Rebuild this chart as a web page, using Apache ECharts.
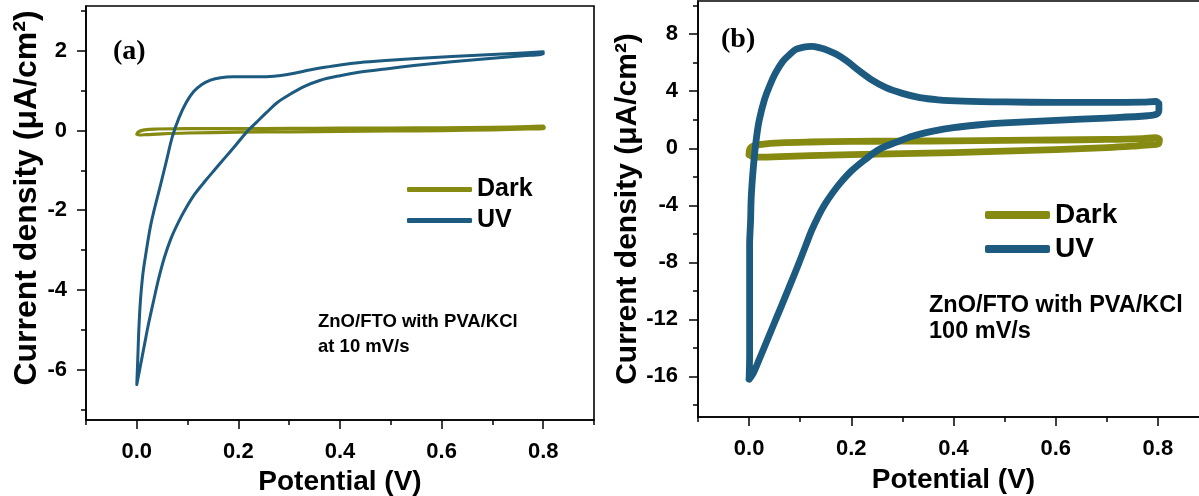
<!DOCTYPE html>
<html><head><meta charset="utf-8">
<script src="https://cdn.jsdelivr.net/npm/echarts@6/dist/echarts.min.js"></script>
<style>html,body{margin:0;padding:0;background:#fff}#c{width:1199px;height:496px}</style>
</head><body><div id="c"></div>
<script>
// ---- tick values ----
const xMajorTicks = [0, 0.2, 0.4, 0.6, 0.8];
const xMinorTicks = [-0.1, 0.1, 0.3, 0.5, 0.7, 0.9];
const aYMajorTicks = [-6, -4, -2, 0, 2];
const aYMinorTicks = [-7, -5, -3, -1, 1, 3];
const bYMajorTicks = [-16, -12, -8, -4, 0, 4, 8];
const bYMinorTicks = [-18, -14, -10, -6, -2, 2, 6, 10];
const seriesNames = ['Dark', 'UV'];
const xTitle = 'Potential (V)';
const yTitle = 'Current density (\u03bcA/cm\u00b2)';
const aNote = ['ZnO/FTO with PVA/KCl', 'at 10 mV/s'];
const bNote = ['ZnO/FTO with PVA/KCl', '100 mV/s'];

// ---- panel (a) data: [potential V, current density] ----
const aDark = [[0.0,-0.09],[0.003,-0.03],[0.015,0.02],[0.04,0.04],[0.1,0.05],[0.2,0.05],[0.3,0.055],[0.4,0.06],[0.5,0.065],[0.6,0.07],[0.7,0.08],[0.77,0.1],[0.8,0.11],[0.802,0.08],[0.8,0.05],[0.77,0.04],[0.7,0.02],[0.6,0.0],[0.5,-0.01],[0.4,-0.02],[0.3,-0.03],[0.2,-0.04],[0.1,-0.06],[0.05,-0.08],[0.02,-0.1],[0.005,-0.11],[0.0,-0.09]];
const aUV = [[0.0,-6.38],[0.002,-5.7],[0.004,-5.0],[0.007,-4.3],[0.012,-3.6],[0.019,-3.0],[0.027,-2.4],[0.036,-1.9],[0.046,-1.4],[0.058,-0.78],[0.07,-0.15],[0.083,0.32],[0.097,0.7],[0.112,0.98],[0.128,1.16],[0.145,1.27],[0.165,1.33],[0.19,1.35],[0.22,1.35],[0.25,1.35],[0.28,1.38],[0.31,1.44],[0.34,1.52],[0.37,1.59],[0.4,1.65],[0.44,1.71],[0.49,1.76],[0.55,1.81],[0.62,1.86],[0.7,1.91],[0.76,1.95],[0.8,1.98],[0.8,1.93],[0.76,1.88],[0.7,1.82],[0.62,1.73],[0.55,1.64],[0.49,1.55],[0.44,1.47],[0.4,1.38],[0.36,1.26],[0.33,1.11],[0.3,0.9],[0.276,0.7],[0.255,0.45],[0.235,0.2],[0.216,-0.04],[0.195,-0.36],[0.175,-0.66],[0.155,-0.96],[0.135,-1.26],[0.115,-1.58],[0.098,-1.92],[0.082,-2.3],[0.067,-2.72],[0.054,-3.2],[0.043,-3.72],[0.033,-4.28],[0.023,-4.86],[0.014,-5.45],[0.006,-5.98],[0.0,-6.38]];

// ---- panel (b) data ----
const bDark = [[0.0,-0.45],[0.001,-0.1],[0.008,0.15],[0.025,0.28],[0.06,0.38],[0.12,0.44],[0.2,0.48],[0.3,0.5],[0.4,0.52],[0.5,0.55],[0.6,0.58],[0.7,0.62],[0.77,0.68],[0.795,0.74],[0.803,0.6],[0.802,0.35],[0.79,0.25],[0.75,0.15],[0.7,0.05],[0.6,-0.1],[0.5,-0.2],[0.4,-0.3],[0.3,-0.38],[0.2,-0.45],[0.12,-0.52],[0.06,-0.58],[0.025,-0.62],[0.008,-0.6],[0.0,-0.45]];
const bUV = [[0.0,-16.2],[0.001,-14.5],[0.001,-12],[0.001,-9.5],[0.001,-6.85],[0.003,-5.0],[0.004,-3.57],[0.007,-1.9],[0.011,-0.3],[0.015,0.9],[0.02,2.0],[0.03,3.4],[0.04,4.37],[0.052,5.3],[0.066,6.1],[0.08,6.6],[0.092,6.94],[0.107,7.1],[0.122,7.15],[0.14,7.03],[0.155,6.85],[0.171,6.59],[0.19,6.15],[0.216,5.42],[0.24,4.8],[0.268,4.25],[0.3,3.85],[0.334,3.55],[0.37,3.4],[0.418,3.31],[0.5,3.25],[0.6,3.22],[0.7,3.22],[0.77,3.24],[0.795,3.28],[0.802,3.1],[0.802,2.7],[0.798,2.4],[0.78,2.28],[0.7,2.12],[0.6,1.96],[0.5,1.78],[0.451,1.65],[0.4,1.45],[0.36,1.2],[0.321,0.86],[0.29,0.45],[0.255,-0.07],[0.225,-0.85],[0.2,-1.6],[0.177,-2.5],[0.162,-3.2],[0.148,-3.95],[0.135,-4.8],[0.122,-5.8],[0.11,-6.9],[0.097,-8.1],[0.08,-9.6],[0.064,-11.0],[0.05,-12.2],[0.035,-13.5],[0.02,-14.8],[0.008,-15.8],[0.0,-16.2]];

const DARK_COLOR = '#878a10';
const UV_COLOR = '#1c5a80';
const SANS = '"Liberation Sans", Arial, sans-serif';
const SERIF = '"Liberation Serif", "Times New Roman", serif';

function majorAxis(dim, gridIndex, min, max, ticks, fmt, margin, nameGap, nameSize, namePad) {
  return {
    type: 'value', gridIndex, min, max,
    position: dim === 'x' ? 'bottom' : 'left',
    axisLine: { show: true, onZero: false, lineStyle: { color: '#000', width: 1.6 } },
    axisTick: { show: true, inside: false, length: 9, customValues: ticks, lineStyle: { color: '#000', width: 1.5 } },
    axisLabel: { show: true, customValues: ticks, formatter: fmt, margin, fontSize: 22, fontWeight: 'bold', fontFamily: SANS, color: '#000' },
    splitLine: { show: false },
    name: dim === 'x' ? xTitle : yTitle,
    nameLocation: 'middle', nameGap,
    nameTextStyle: { fontSize: nameSize, fontWeight: 'bold', fontFamily: SANS, color: '#000', padding: namePad || 0 }
  };
}
function minorAxis(dim, gridIndex, min, max, ticks) {
  return {
    type: 'value', gridIndex, min, max,
    position: dim === 'x' ? 'bottom' : 'left',
    axisLine: { show: false, onZero: false },
    axisTick: { show: true, inside: false, length: 5, customValues: ticks, lineStyle: { color: '#000', width: 1.5 } },
    axisLabel: { show: false },
    splitLine: { show: false }
  };
}
const fx = v => v.toFixed(1);
const fy = v => String(v);

function cv(name, xi, data, color, width) {
  return {
    name, type: 'line', xAxisIndex: xi, yAxisIndex: xi, data,
    color, showSymbol: false, symbol: 'none', smooth: 0.35,
    lineStyle: { color, width, cap: 'round', join: 'round' },
    itemStyle: { color }, animation: false, z: name === 'UV' ? 3 : 2
  };
}

function legend(left, top, iconH, fontSize, lineH) {
  return {
    data: seriesNames, orient: 'vertical', left, top,
    itemWidth: 65, itemHeight: iconH, icon: 'roundRect', itemGap: 6,
    selectedMode: false,
    textStyle: { fontSize, fontWeight: 'bold', fontFamily: SANS, color: '#000', lineHeight: lineH }
  };
}

function txt(x, y, text, font) {
  return { type: 'text', x, y, silent: true, style: { text, font, fill: '#000', verticalAlign: 'middle', align: 'left' } };
}

const chart = echarts.init(document.getElementById('c'), null, { renderer: 'canvas' });
chart.setOption({
  backgroundColor: '#fff',
  animation: false,
  grid: [
    { left: 86, top: 6, width: 508, height: 414, show: true, borderColor: '#000', borderWidth: 1.6, backgroundColor: 'transparent', outerBoundsMode: 'none', containLabel: false },
    { left: 698, top: 1, width: 511, height: 416, show: true, borderColor: '#000', borderWidth: 1.6, backgroundColor: 'transparent', outerBoundsMode: 'none', containLabel: false }
  ],
  xAxis: [
    majorAxis('x', 0, -0.1, 0.9, xMajorTicks, fx, 21, 45, 28),
    minorAxis('x', 0, -0.1, 0.9, xMinorTicks),
    majorAxis('x', 1, -0.1, 0.9, xMajorTicks, fx, 21, 49, 28),
    minorAxis('x', 1, -0.1, 0.9, xMinorTicks)
  ],
  yAxis: [
    majorAxis('y', 0, -7.27, 3.13, aYMajorTicks, fy, 19, 41, 32, [0, 0, 0, 30]),
    minorAxis('y', 0, -7.27, 3.13, aYMinorTicks),
    majorAxis('y', 1, -18.85, 10.33, bYMajorTicks, fy, 20, 46, 30),
    minorAxis('y', 1, -18.85, 10.33, bYMinorTicks)
  ],
  legend: [legend(402, 172, 5, 25, 25), legend(980, 196, 8, 28, 26)],
  series: [
    cv('Dark', 0, aDark, DARK_COLOR, 3.2),
    cv('UV', 0, aUV, UV_COLOR, 3),
    cv('Dark', 2, bDark, DARK_COLOR, 6.8),
    cv('UV', 2, bUV, UV_COLOR, 6.8)
  ],
  graphic: [
    txt(113, 52, '(a)', 'bold 28px ' + SERIF),
    txt(721, 40, '(b)', 'bold 28px ' + SERIF),
    txt(318, 322, aNote[0], 'bold 18.5px ' + SANS),
    txt(318, 347, aNote[1], 'bold 18.5px ' + SANS),
    txt(929, 306, bNote[0], 'bold 23.5px ' + SANS),
    txt(929, 332, bNote[1], 'bold 23.5px ' + SANS)
  ]
});
</script></body></html>
